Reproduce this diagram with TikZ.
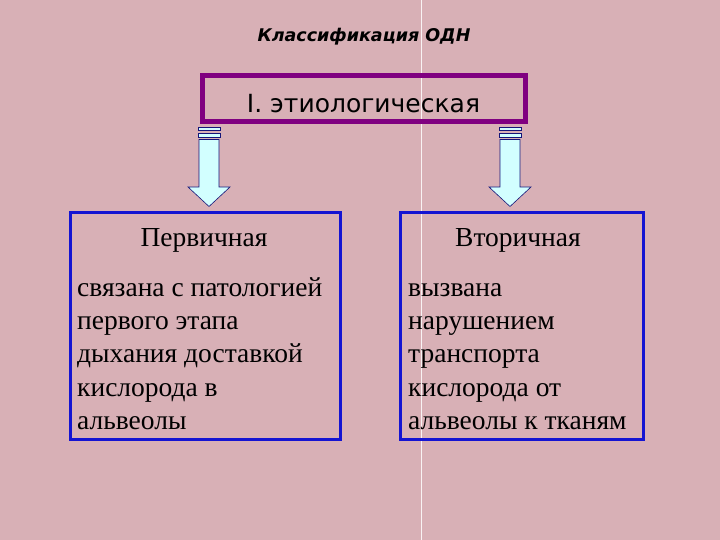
\documentclass[tikz,border=0pt]{standalone}
\usepackage{fontspec}
\usetikzlibrary{calc}
\setmainfont{Liberation Serif}
\newfontfamily\titlefont{DejaVu Sans}
\newfontfamily\labelfont{DejaVu Sans}
\begin{document}
\begin{tikzpicture}[x=1pt,y=-1pt]
\definecolor{bgpink}{RGB}{216,176,182}
\definecolor{purp}{RGB}{128,0,128}
\definecolor{boxblue}{RGB}{20,20,210}
\definecolor{arrfill}{RGB}{210,255,255}
\definecolor{arrline}{RGB}{20,20,120}
\tikzset{
  purplebox/.style={draw=purp, line width=5pt, inner sep=0pt, minimum width=323, minimum height=46},
  bluebox/.style={draw=boxblue, line width=3pt, inner sep=0pt},
  headtext/.style={font=\fontsize{27.5}{33}\selectfont, inner sep=0pt, anchor=base},
  bodyline/.style={font=\fontsize{27.5}{33}\selectfont, inner sep=0pt, anchor=base west},
  arrowshape/.style={draw=arrline, line width=0.6pt, fill=arrfill, line join=miter},
}
\fill[bgpink] (0,0) rectangle (720,540);
\useasboundingbox (0,0) rectangle (720,540);
\draw[white!85!bgpink, line width=1pt] (421,0) -- (421,540);

\node[font=\titlefont\bfseries\itshape\fontsize{17.5}{20}\selectfont, anchor=base] (title) at (364,42) {Классификация ОДН};

\node[purplebox] (top) at (363.5,99) {};
\node[font=\labelfont\fontsize{25}{30}\selectfont, anchor=base] (toptext) at (363.5,113) {I. этиологическая};

\node[bluebox, minimum width=270, minimum height=226] (L) at (205,326) {};
\node[bluebox, minimum width=243, minimum height=226] (R) at (521.5,326) {};

\node[headtext] (Lh) at (204,246) {Первичная};
\node[headtext] (Rh) at (518,246) {Вторичная};

\foreach \t [count=\i] in {связана с патологией, первого этапа, дыхания доставкой, кислорода в, альвеолы}
  \node[bodyline] (Lb\i) at (77,{296+33.4*(\i-1)}) {\t};
\foreach \t [count=\i] in {вызвана, нарушением, транспорта, кислорода от, альвеолы к тканям}
  \node[bodyline] (Rb\i) at (408,{296+33.4*(\i-1)}) {\t};

\foreach \cx/\tgt in {209/L, 510/R} {
  \coordinate (a\tgt) at (\cx,126);
  \coordinate (t\tgt) at ($(\tgt.north -| a\tgt)+(0,-5)$);
  \draw[arrowshape] ($(a\tgt)+(-11,1.5)$) rectangle ($(a\tgt)+(11,4.5)$);
  \draw[arrowshape] ($(a\tgt)+(-11,7)$) rectangle ($(a\tgt)+(11,11.5)$);
  \draw[arrowshape] ($(a\tgt)+(-10,13.5)$) -- ($(a\tgt)+(10,13.5)$)
     -- ($(a\tgt)+(10,61)$) -- ($(a\tgt)+(21,61)$)
     -- (t\tgt) -- ($(a\tgt)+(-21,61)$)
     -- ($(a\tgt)+(-10,61)$) -- cycle;
}
\end{tikzpicture}
\end{document}
